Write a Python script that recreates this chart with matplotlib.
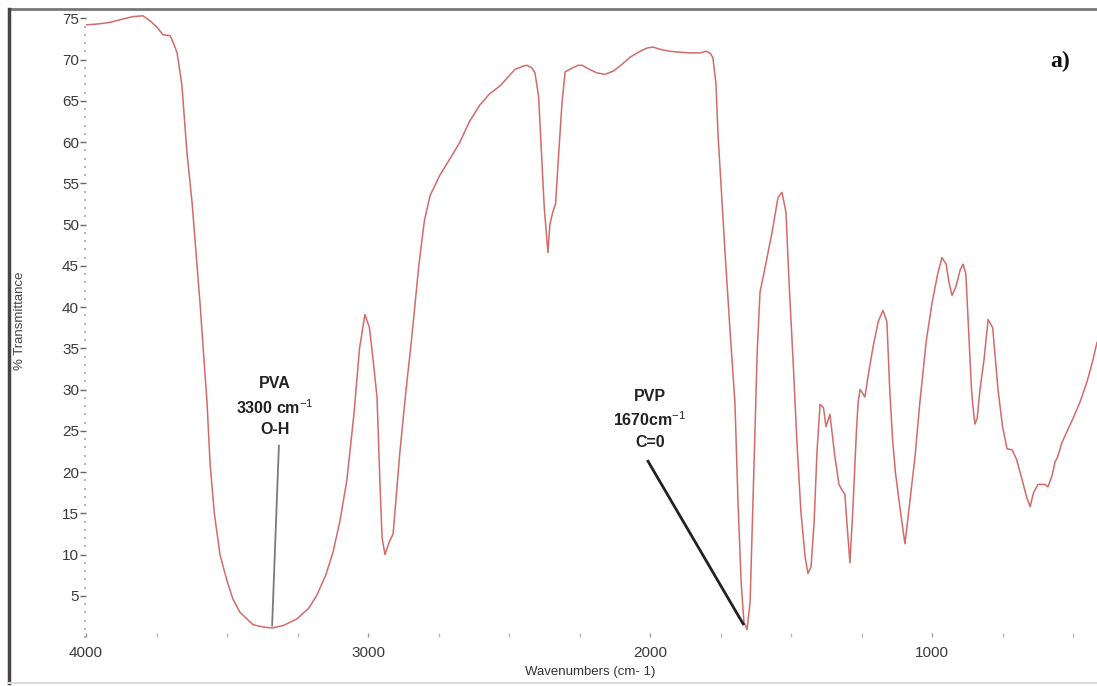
import matplotlib
matplotlib.use("Agg")
import matplotlib.pyplot as plt
from matplotlib.ticker import MultipleLocator, FixedLocator
from matplotlib.lines import Line2D

plt.rcParams['font.family'] = ['Liberation Sans', 'DejaVu Sans']
plt.rcParams['mathtext.fontset'] = 'custom'
plt.rcParams['mathtext.rm'] = 'Liberation Sans'
plt.rcParams['mathtext.it'] = 'Liberation Sans'
plt.rcParams['mathtext.bf'] = 'Liberation Sans:bold'

# FTIR spectrum, wavenumber (cm-1) vs % transmittance
wavenumber = [
    4000, 3960, 3915, 3870, 3833, 3798, 3770, 3748, 3727, 3702, 3690, 3677,
    3660, 3642, 3624, 3596, 3571, 3560, 3545, 3525, 3500, 3479, 3454, 3408, 3370,
    3340, 3300, 3252, 3210, 3181, 3150, 3124, 3100, 3075, 3050, 3030, 3011,
    2995, 2980, 2968, 2957, 2950, 2940, 2925, 2911, 2900, 2887, 2865, 2844,
    2820, 2800, 2780, 2745, 2700, 2674, 2640, 2603, 2570, 2532, 2500, 2479,
    2450, 2436, 2420, 2408, 2395, 2385, 2375, 2362, 2355, 2345, 2335, 2325,
    2312, 2301, 2280, 2255, 2241, 2220, 2190, 2160, 2130, 2100, 2070, 2035,
    2010, 1989, 1960, 1930, 1900, 1860, 1823, 1800, 1785, 1777, 1766, 1759,
    1745, 1734, 1716, 1699, 1688, 1677, 1667, 1656, 1645, 1635, 1620, 1610,
    1592, 1567, 1546, 1532, 1518, 1507, 1493, 1479, 1465, 1450, 1440, 1429,
    1418, 1408, 1397, 1385, 1376, 1362, 1345, 1330, 1319, 1309, 1300, 1291,
    1280, 1268, 1262, 1255, 1238, 1225, 1210, 1191, 1174, 1160, 1150, 1140,
    1130, 1113, 1096, 1080, 1060, 1043, 1020, 1000, 980, 965, 950, 940,
    929, 915, 900, 890, 880, 870, 860, 855, 848, 840, 830, 816,
    801, 785, 766, 750, 734, 716, 700, 680, 665, 652, 640, 624,
    600, 589, 575, 564, 555, 539, 520, 500, 475, 450, 430, 415,
]
transmittance = [
    74.2, 74.3, 74.5, 74.9, 75.2, 75.3, 74.6, 73.9, 73.0, 72.9, 72.0, 70.8,
    66.9, 58.7, 52.7, 40.6, 28.5, 21.0, 15.0, 10.0, 6.8, 4.6, 3.0, 1.5, 1.2,
    1.1, 1.4, 2.2, 3.5, 5.1, 7.5, 10.3, 14.0, 19.0, 27.0, 35.0, 39.1,
    37.5, 33.0, 29.0, 18.0, 12.0, 10.0, 11.5, 12.5, 17.0, 22.4, 30.0, 36.6,
    45.0, 50.5, 53.5, 56.0, 58.5, 60.0, 62.5, 64.5, 65.8, 66.8, 68.0, 68.8,
    69.2, 69.3, 69.0, 68.4, 65.5, 58.7, 52.0, 46.6, 50.0, 51.5, 52.5, 58.0,
    64.8, 68.5, 68.9, 69.3, 69.3, 68.9, 68.4, 68.2, 68.6, 69.4, 70.3, 71.0,
    71.4, 71.5, 71.2, 71.0, 70.9, 70.8, 70.8, 71.0, 70.7, 70.2, 67.0, 61.0,
    53.0, 46.6, 37.0, 28.5, 16.4, 6.7, 1.8, 0.9, 4.3, 16.4, 34.5, 41.8,
    44.8, 49.1, 53.3, 53.9, 51.5, 43.0, 33.7, 23.6, 15.2, 9.7, 7.7, 8.5,
    14.0, 22.4, 28.2, 27.8, 25.5, 27.0, 22.0, 18.5, 17.8, 17.3, 13.0, 9.0,
    16.0, 25.0, 28.5, 30.0, 29.1, 32.0, 35.0, 38.2, 39.6, 38.2, 30.0, 24.0,
    20.0, 15.5, 11.3, 16.0, 22.0, 28.5, 36.0, 40.5, 44.0, 46.0, 45.2, 43.0,
    41.4, 42.5, 44.5, 45.2, 44.0, 37.0, 30.0, 28.0, 25.8, 26.5, 30.0, 33.5,
    38.5, 37.5, 30.0, 25.5, 22.8, 22.7, 21.5, 19.0, 17.0, 15.8, 17.5, 18.5,
    18.5, 18.2, 19.5, 21.2, 21.8, 23.6, 25.0, 26.5, 28.5, 31.0, 33.5, 35.7,
]

x_labels = [4000, 3000, 2000, 1000]
y_labels = list(range(5, 80, 5))

# band assignments: label text, label centre, leader line (from, to)
pva_text = "PVA\n3300 cm$^{-1}$\nO-H"
pva_pos = (3330, 27.9)
pva_line = ([3316, 3340], [23.2, 1.4])
pvp_text = "PVP\n1670cm$^{-1}$\nC=0"
pvp_pos = (2000, 26.4)
pvp_line = ([2007, 1670], [21.3, 1.6])

fig = plt.figure(figsize=(10.97, 6.86), dpi=100)
ax = fig.add_axes([0.0784, 0.0714, 0.9216, 0.914])

ax.plot(wavenumber, transmittance, color='#d46a6a', lw=1.1)

ax.set_xlim(4000, 415)
ax.set_ylim(0, 76)

for s in ax.spines.values():
    s.set_visible(False)

ax.xaxis.set_major_locator(FixedLocator(x_labels))
ax.xaxis.set_minor_locator(MultipleLocator(250))
ax.yaxis.set_major_locator(FixedLocator(y_labels))
ax.yaxis.set_minor_locator(MultipleLocator(1))
ax.tick_params(axis='x', which='major', direction='in', length=3, width=1,
               color='#999999', labelsize=11, labelcolor='#3a3a3a', pad=6.5)
ax.tick_params(axis='x', which='minor', direction='in', length=3, width=1,
               color='#bbbbbb')
ax.tick_params(axis='y', which='major', direction='out', length=4, width=1,
               color='#666666', labelsize=11, labelcolor='#3a3a3a', pad=1)
ax.tick_params(axis='y', which='minor', direction='out', length=1.5,
               width=1.2, color='#aaaaaa')

ax.set_xlabel("Wavenumbers (cm- 1)", fontsize=9.5, color='#333333')
ax.xaxis.set_label_coords(0.4985, -0.046)
ax.set_ylabel("% Transmittance", fontsize=9.5, color='#444444')
ax.yaxis.set_label_coords(-0.059, 0.505)

ax.plot(*pva_line, color='#7a7a7a', lw=1.3)
ax.plot(*pvp_line, color='#222222', lw=2)
ax.text(*pva_pos, pva_text, ha='center', va='center', fontsize=11.5,
        fontweight='bold', color='#222222', linespacing=1.45)
ax.text(*pvp_pos, pvp_text, ha='center', va='center', fontsize=11.5,
        fontweight='bold', color='#222222', linespacing=1.45)

fig.text(0.966, 0.91, "a)", fontsize=17, fontweight='bold',
         family=['Liberation Serif', 'DejaVu Serif'], color='#111111',
         ha='center', va='center')

# border round the figure
fig.add_artist(Line2D([0.008, 1.0], [0.987, 0.987], color='#777777', lw=2,
                      transform=fig.transFigure))
fig.add_artist(Line2D([0.008, 0.008], [0.004, 0.987], color='#4a4048', lw=2.5,
                      transform=fig.transFigure))
fig.add_artist(Line2D([0.008, 1.0], [0.004, 0.004], color='#dddddd', lw=1.5,
                      transform=fig.transFigure))

fig.savefig("out.png", dpi=100)
